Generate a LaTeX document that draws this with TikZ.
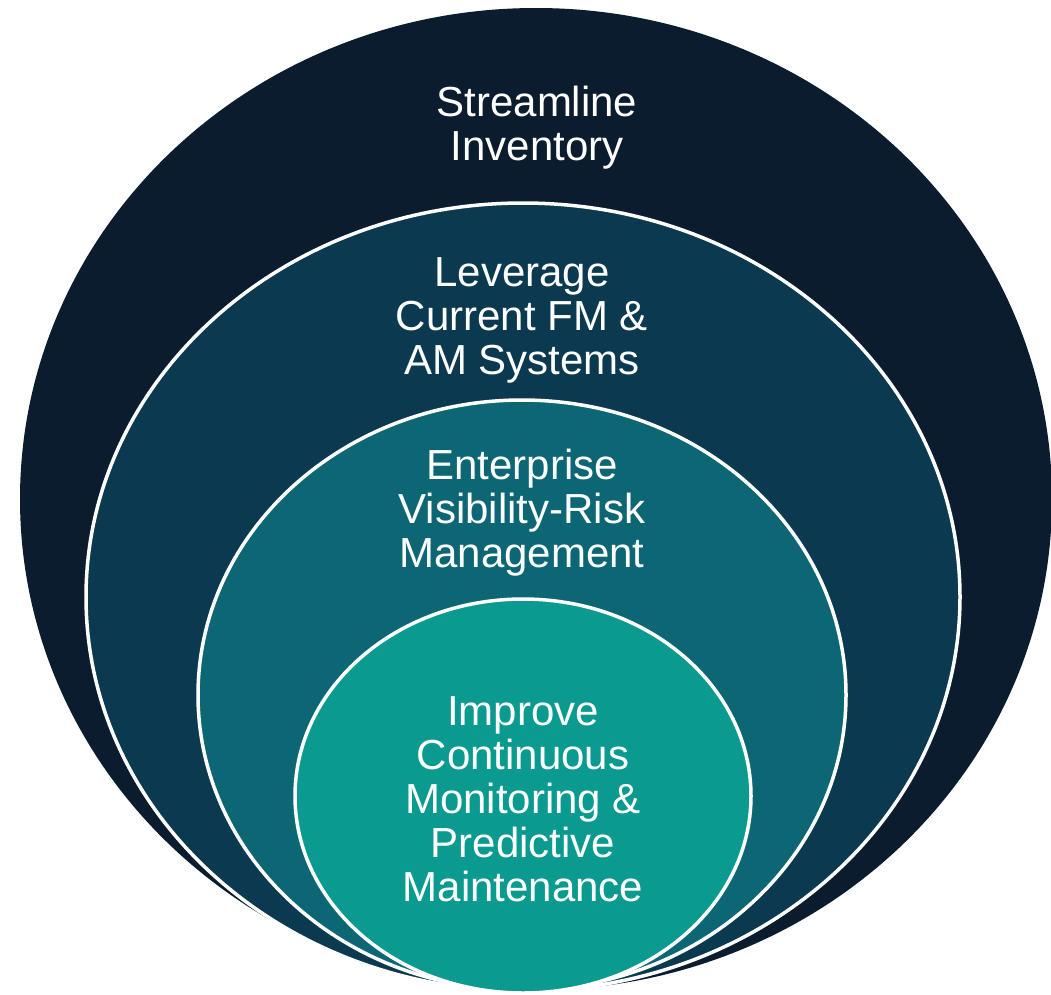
\documentclass[tikz,border=0pt]{standalone}
\usepackage{fontspec}
\setmainfont{Liberation Sans}
\definecolor{ringA}{HTML}{0A1C2E}
\definecolor{ringB}{HTML}{0B3A50}
\definecolor{ringC}{HTML}{0C6673}
\definecolor{ringD}{HTML}{0A9A8F}
\tikzset{
  ring/.style={draw=white, line width=3.5pt},
  label/.style={text=white, align=center, inner sep=0pt,
    font=\fontsize{42}{44}\selectfont}
}
\begin{document}
\begin{tikzpicture}[x=1pt,y=1pt]
\useasboundingbox (0,0) rectangle (1051,-994);
\clip (0,0) rectangle (1051,-994);
\fill[ringA] (536,-499) ellipse [x radius=516, y radius=491];
\path[ring, fill=ringB] (523,-597) ellipse [x radius=437, y radius=394];
\path[ring, fill=ringC] (522,-695) ellipse [x radius=324, y radius=295];
\path[ring, fill=ringD] (523,-796) ellipse [x radius=228, y radius=197];
\node[label] (t1) at (537,-128) {Streamline\\Inventory};
\node[label] (t2) at (522,-320) {Leverage\\Current FM \&\\AM Systems};
\node[label] (t3) at (522,-513) {Enterprise\\Visibility-Risk\\Management};
\node[label] (t4) at (523,-799) {Improve\\Continuous\\Monitoring \&\\Predictive\\Maintenance};
\end{tikzpicture}
\end{document}
